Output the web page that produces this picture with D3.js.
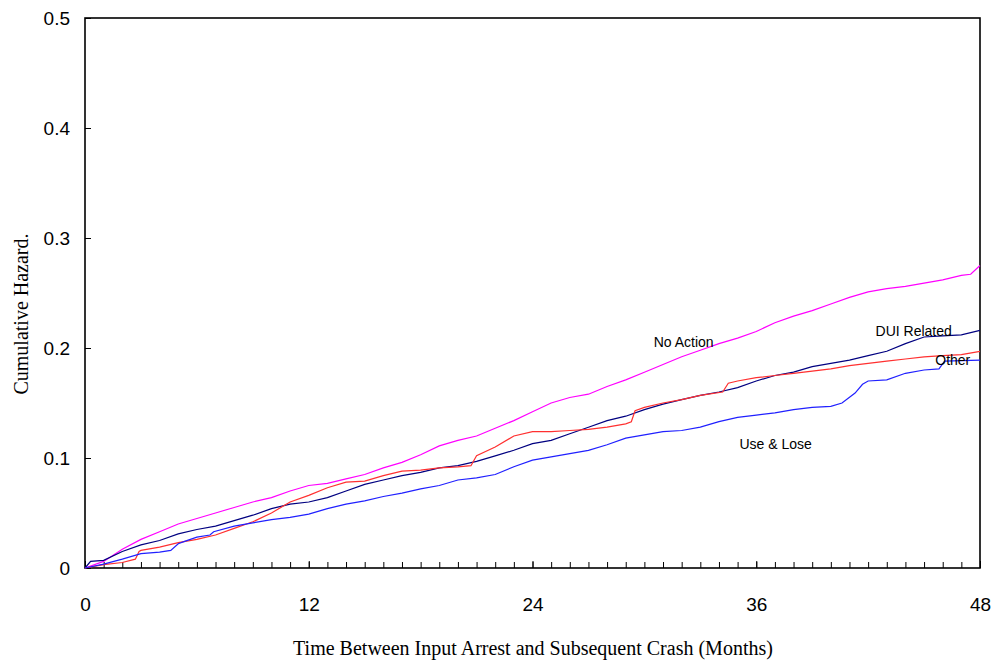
<!DOCTYPE html>
<html>
<head>
<meta charset="utf-8">
<script src="https://cdn.jsdelivr.net/npm/d3@7"></script>
<style>
	body { margin: 0; background: #fff; }
	svg { display: block; }
	.tick line { stroke: #000; }
	.domain { display: none; }
</style>
</head>
<body>
<svg id="chart" width="993" height="662"></svg>
<script>

//DATA: [month, cumulative hazard]

var noAction = [
	[0,0],[1,0.006],[2,0.017],[3,0.026],[4,0.033],[5,0.040],[6,0.045],[7,0.050],[8,0.055],
	[9,0.060],[10,0.064],[11,0.070],[12,0.075],[13,0.077],[14,0.081],[15,0.085],[16,0.091],
	[17,0.096],[18,0.103],[19,0.111],[20,0.116],[21,0.120],[22,0.127],[23,0.134],[24,0.142],
	[25,0.150],[26,0.155],[27,0.158],[28,0.165],[29,0.171],[30,0.178],[31,0.185],[32,0.192],
	[33,0.198],[34,0.204],[35,0.209],[36,0.215],[37,0.223],[38,0.229],[39,0.234],[40,0.240],
	[41,0.246],[42,0.251],[43,0.254],[44,0.256],[45,0.259],[46,0.262],[47,0.266],[47.5,0.267],[48,0.275]
];

var duiRelated = [
	[0,0],[0.3,0.006],[1,0.007],[2,0.015],[3,0.021],[4,0.025],[5,0.031],[6,0.035],[7,0.038],
	[8,0.043],[9,0.048],[10,0.054],[11,0.058],[12,0.060],[13,0.064],[14,0.070],[15,0.076],
	[16,0.080],[17,0.084],[18,0.087],[19,0.091],[20,0.093],[21,0.097],[22,0.102],[23,0.107],
	[24,0.113],[25,0.116],[26,0.122],[27,0.128],[28,0.134],[29,0.138],[30,0.144],[31,0.149],
	[32,0.153],[33,0.157],[34,0.160],[35,0.164],[36,0.170],[37,0.175],[38,0.178],[39,0.183],
	[40,0.186],[41,0.189],[42,0.193],[43,0.197],[44,0.204],[45,0.210],[46,0.211],[47,0.212],[48,0.216]
];

var other = [
	[0,0],[1,0.003],[2,0.005],[2.7,0.008],[2.9,0.015],[3,0.016],[4,0.019],[5,0.023],[6,0.026],
	[7,0.030],[8,0.036],[9,0.042],[10,0.050],[11,0.060],[12,0.066],[13,0.073],[14,0.078],
	[15,0.079],[16,0.084],[17,0.088],[18,0.089],[19,0.091],[20,0.092],[20.7,0.093],[21,0.102],
	[22,0.110],[23,0.120],[24,0.124],[25,0.124],[26,0.125],[27,0.126],[28,0.128],[29,0.131],
	[29.3,0.133],[29.5,0.143],[30,0.146],[31,0.150],[32,0.153],[33,0.157],[34.2,0.160],
	[34.5,0.168],[35,0.170],[36,0.173],[37,0.175],[38,0.177],[39,0.179],[40,0.181],[41,0.184],
	[42,0.186],[43,0.188],[44,0.190],[45,0.192],[46,0.193],[47,0.194],[48,0.197]
];

var useAndLose = [
	[0,0],[1,0.0035],[2,0.008],[3,0.013],[4,0.0145],[4.6,0.016],[5,0.022],[5.3,0.024],[6,0.028],
	[6.7,0.030],[6.9,0.033],[8,0.038],[9,0.041],[10,0.044],[11,0.046],[12,0.049],[13,0.054],[14,0.058],
	[15,0.061],[16,0.065],[17,0.068],[18,0.072],[19,0.075],[20,0.080],[21,0.082],[22,0.085],
	[23,0.092],[24,0.098],[25,0.101],[26,0.104],[27,0.107],[28,0.112],[29,0.118],[30,0.121],
	[31,0.124],[32,0.125],[33,0.128],[34,0.133],[35,0.137],[36,0.139],[37,0.141],[38,0.144],
	[39,0.146],[40,0.147],[40.6,0.150],[41.3,0.159],[41.7,0.167],[42,0.170],[43,0.171],
	[44,0.177],[45,0.180],[45.8,0.181],[46.1,0.188],[48,0.189]
];

var seriesNames = ["No Action", "DUI Related", "Other", "Use & Lose"];
var seriesData = [noAction, duiRelated, other, useAndLose];
var seriesColors = ["#ff00ff", "#000080", "#ff3030", "#2020ff"];
// label anchor [month, hazard] for each curve label
var labelSpots = [[30.5, 0.2005], [42.4, 0.2105], [45.6, 0.1845], [35.1, 0.1085]];

var xMajorTicks = [0, 12, 24, 36, 48];
var yTicks = [0, 0.1, 0.2, 0.3, 0.4, 0.5];

//LAYOUT

var margin = { top: 18, left: 85, right: 13, bottom: 94 };
var svg = d3.select("#chart");
var width = +svg.attr("width") - margin.left - margin.right;
var height = +svg.attr("height") - margin.top - margin.bottom;

var g = svg.append("g")
	.attr("transform", "translate(" + margin.left + "," + margin.top + ")");

var xScale = d3.scaleLinear().domain([0, 48]).range([0, width]);
var yScale = d3.scaleLinear().domain([0, 0.5]).range([height, 0]);

//minor monthly ticks pointing into the plot
g.append("g")
	.attr("transform", "translate(0," + height + ")")
	.call(d3.axisBottom(xScale).tickValues(d3.range(0, 49)).tickSize(-6).tickFormat(""));

//major labels
var xAxis = g.append("g")
	.attr("transform", "translate(0," + height + ")")
	.call(d3.axisBottom(xScale).tickValues(xMajorTicks).tickSize(-7).tickPadding(30).tickFormat(d3.format("d")));

var yAxis = g.append("g")
	.call(d3.axisLeft(yScale).tickValues(yTicks).tickSize(-6).tickPadding(15)
		.tickFormat(d => d === 0 ? "0" : d3.format(".1f")(d)));

g.selectAll(".tick text")
	.attr("fill", "#000")
	.style("font-family", "'Liberation Sans', Arial, sans-serif")
	.style("font-size", "19px");

//frame
g.append("rect")
	.attr("width", width)
	.attr("height", height)
	.attr("fill", "none")
	.attr("stroke", "#000")
	.attr("stroke-width", 1.6);

//curves
var line = d3.line()
	.x(d => xScale(d[0]))
	.y(d => yScale(d[1]));

g.selectAll("path.curve")
	.data(seriesData)
	.enter()
	.append("path")
	.attr("class", "curve")
	.attr("d", line)
	.attr("fill", "none")
	.attr("stroke", (d, i) => seriesColors[i])
	.attr("stroke-width", 1.2);

//curve labels
g.selectAll("text.label")
	.data(seriesNames)
	.enter()
	.append("text")
	.attr("class", "label")
	.attr("x", (d, i) => xScale(labelSpots[i][0]))
	.attr("y", (d, i) => yScale(labelSpots[i][1]))
	.style("font-family", "'Liberation Sans', Arial, sans-serif")
	.style("font-size", "14px")
	.text(d => d);

//axis titles
svg.append("text")
	.attr("x", 533)
	.attr("y", 655)
	.attr("text-anchor", "middle")
	.style("font-family", "'Liberation Serif', 'Times New Roman', serif")
	.style("font-size", "20px")
	.text("Time Between Input Arrest and Subsequent Crash (Months)");

svg.append("text")
	.attr("transform", "translate(28," + 314 + ") rotate(-90)")
	.attr("text-anchor", "middle")
	.style("font-family", "'Liberation Serif', 'Times New Roman', serif")
	.style("font-size", "20px")
	.text("Cumulative Hazard.");

</script>
</body>
</html>
